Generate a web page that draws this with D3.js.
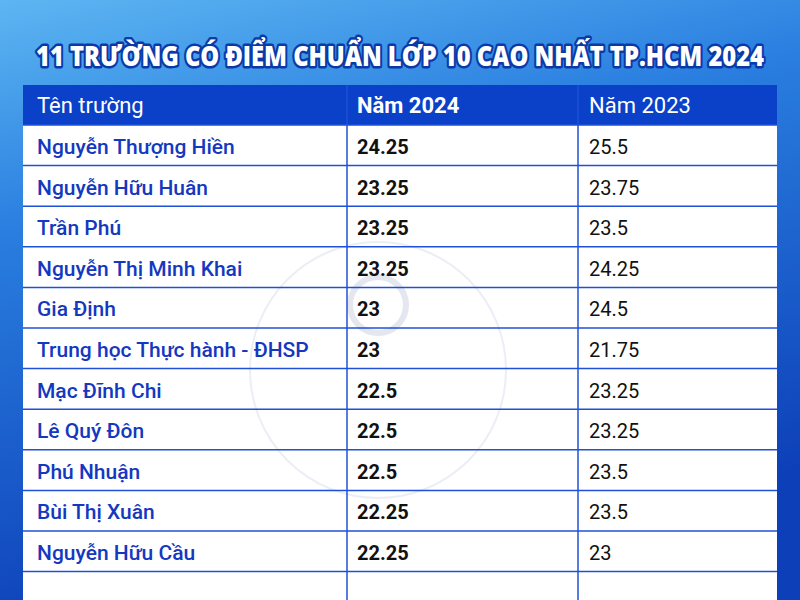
<!DOCTYPE html><html><head><meta charset="utf-8"><script src="https://cdn.jsdelivr.net/npm/d3@7"></script>
<style>body{margin:0}svg{display:block}</style></head><body><svg id="c" width="800" height="600"></svg>
<script>
const title = "11 TRƯỜNG CÓ ĐIỂM CHUẨN LỚP 10 CAO NHẤT TP.HCM 2024";
const headers = ["Tên trường","Năm 2024","Năm 2023"];
const schools = ["Nguyễn Thượng Hiền","Nguyễn Hữu Huân","Trần Phú","Nguyễn Thị Minh Khai","Gia Định","Trung học Thực hành - ĐHSP","Mạc Đĩnh Chi","Lê Quý Đôn","Phú Nhuận","Bùi Thị Xuân","Nguyễn Hữu Cầu"];
const score2024 = ["24.25","23.25","23.25","23.25","23","23","22.5","22.5","22.5","22.25","22.25"];
const score2023 = ["25.5","23.75","23.5","24.25","24.5","21.75","23.25","23.25","23.5","23.5","23"];

const svg = d3.select("#c");
const defs = svg.append("defs");
const g = defs.append("linearGradient").attr("id","bg").attr("x1",0).attr("y1",0).attr("x2",0.3).attr("y2",1);
g.append("stop").attr("offset",0).attr("stop-color","#5db6f2");
g.append("stop").attr("offset",0.35).attr("stop-color","#2a7fe0");
g.append("stop").attr("offset",1).attr("stop-color","#0d3fb8");
svg.append("rect").attr("width",800).attr("height",600).attr("fill","url(#bg)");

const x = d3.scaleOrdinal().domain([0,1,2,3]).range([23,347,578,777]);
const rowH = 40.6;
const ry = i => 125 + i*rowH;

svg.append("rect").attr("x",23).attr("y",125).attr("width",754).attr("height",475).attr("fill","#fff");
svg.append("rect").attr("x",23).attr("y",85).attr("width",754).attr("height",40).attr("fill","#0b40c8");

// watermark (drawn as shapes, faint)
svg.append("circle").attr("cx",378).attr("cy",370).attr("r",128).attr("fill","none").attr("stroke","#eceef5").attr("stroke-width",2);
svg.append("circle").attr("cx",378).attr("cy",305).attr("r",28).attr("fill","none").attr("stroke","#e4e6f0").attr("stroke-width",6);

const rows = d3.range(schools.length+1);
svg.selectAll("line.h").data(rows).join("line").attr("x1",23).attr("x2",777)
  .attr("y1",i=>ry(i)).attr("y2",i=>ry(i)).attr("stroke","#1f50d8").attr("stroke-width",1.5);
svg.selectAll("line.v").data([1,2]).join("line").attr("x1",i=>x(i)).attr("x2",i=>x(i))
  .attr("y1",85).attr("y2",600).attr("stroke","#1f50d8").attr("stroke-width",1.5);

svg.append("text").attr("x",400).attr("y",66).attr("text-anchor","middle")
  .attr("font-family","Open Sans").attr("font-weight",800).attr("font-size",28)
  .attr("textLength",728).attr("lengthAdjust","spacingAndGlyphs")
  .attr("fill","#fff").attr("stroke","#0a3aa8").attr("stroke-width",5).attr("paint-order","stroke").attr("stroke-linejoin","round")
  .text(title);

const hx = [37,357,589];
svg.selectAll("text.hd").data(headers).join("text").attr("x",(d,i)=>hx[i]).attr("y",113)
  .attr("font-family","Roboto").attr("font-size",22).attr("font-weight",(d,i)=>i==1?700:400).attr("fill","#fff").text(d=>d);

svg.selectAll("text.nm").data(schools).join("text").attr("x",37).attr("y",(d,i)=>ry(i)+29)
  .attr("font-family","Roboto").attr("font-weight",500).attr("font-size",21).attr("fill","#1438c0").text(d=>d);
svg.selectAll("text.s4").data(score2024).join("text").attr("x",357).attr("y",(d,i)=>ry(i)+29)
  .attr("font-family","Roboto").attr("font-weight",700).attr("font-size",20).attr("fill","#111").text(d=>d);
svg.selectAll("text.s3").data(score2023).join("text").attr("x",589).attr("y",(d,i)=>ry(i)+29)
  .attr("font-family","Roboto").attr("font-weight",400).attr("font-size",20).attr("fill","#111").text(d=>d);
</script></body></html>
